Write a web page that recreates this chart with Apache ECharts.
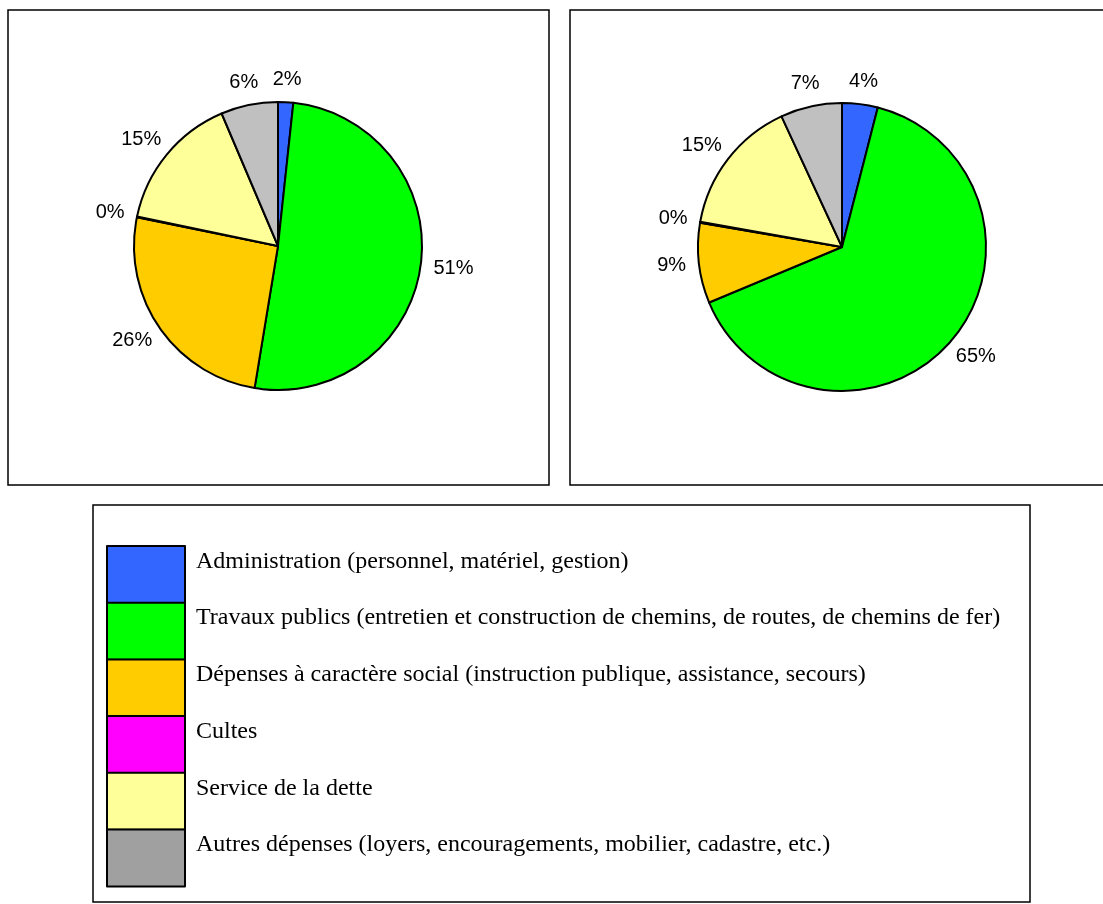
<!DOCTYPE html>
<html>
<head>
<meta charset="utf-8">
<script src="https://cdn.jsdelivr.net/npm/echarts@6/dist/echarts.min.js"></script>
<style>
html,body{margin:0;padding:0;background:#fff;}
#chart{width:1103px;height:904px;}
</style>
</head>
<body>
<div id="chart"></div>
<script>
// Categories (legend entries)
const categories = [
  'Administration (personnel, matériel, gestion)',
  'Travaux publics (entretien et construction de chemins, de routes, de chemins de fer)',
  'Dépenses à caractère social (instruction publique, assistance, secours)',
  'Cultes',
  'Service de la dette',
  'Autres dépenses (loyers, encouragements, mobilier, cadastre, etc.)'
];
// Shares (percent)
const leftValues  = [1.7, 50.9, 25.6, 0.1, 15.3, 6.4];
const rightValues = [4.0, 64.7, 9.0, 0.1, 15.3, 6.9];
// Colours
const sliceColors  = ['#3366FF', '#00FF00', '#FFCC00', '#FF00FF', '#FFFF99', '#C0C0C0'];
const legendColors = ['#3366FF', '#00FF00', '#FFCC00', '#FF00FF', '#FFFF99', '#A0A0A0'];

const chart = echarts.init(document.getElementById('chart'));

function centeredLabelLayout(params) {
  const pts = params.labelLinePoints;
  if (!pts || pts.length < 2) return {};
  const p0 = pts[0], p1 = pts[1];
  let dx = p1[0] - p0[0], dy = p1[1] - p0[1];
  const len = Math.sqrt(dx * dx + dy * dy) || 1;
  dx /= len; dy /= len;
  const w = params.labelRect.width, h = params.labelRect.height;
  const gap = 13;
  return {
    x: p0[0] + dx * gap + dx * w / 2,
    y: p0[1] + dy * gap + dy * h / 2,
    align: 'center',
    verticalAlign: 'middle'
  };
}

function makePie(values, center) {
  return {
    type: 'pie',
    center: center,
    radius: 144,
    startAngle: 90,
    clockwise: true,
    avoidLabelOverlap: false,
    percentPrecision: 0,
    silent: true,
    animation: false,
    itemStyle: { borderColor: '#000', borderWidth: 2 },
    label: {
      show: true,
      position: 'outside',
      formatter: '{d}%',
      fontFamily: 'Liberation Sans',
      fontSize: 20,
      color: '#000'
    },
    labelLine: { show: true, length: 10, length2: 0, lineStyle: { opacity: 0 } },
    labelLayout: centeredLabelLayout,
    emphasis: { disabled: true },
    data: categories.map((c, i) => ({
      name: c,
      value: values[i],
      itemStyle: { color: sliceColors[i] }
    }))
  };
}

const option = {
  backgroundColor: '#fff',
  animation: false,
  graphic: [
    { type: 'rect', shape: { x: 8, y: 10, width: 541, height: 475 }, style: { fill: 'none', stroke: '#000', lineWidth: 1.5 } },
    { type: 'rect', shape: { x: 570, y: 10, width: 545, height: 475 }, style: { fill: 'none', stroke: '#000', lineWidth: 1.5 } },
    { type: 'rect', shape: { x: 93, y: 505, width: 937, height: 397 }, style: { fill: 'none', stroke: '#000', lineWidth: 1.5 } }
  ],
  legend: {
    orient: 'vertical',
    left: 106,
    top: 545,
    padding: 0,
    itemWidth: 78,
    itemHeight: 57,
    itemGap: -2.3,
    icon: 'rect',
    selectedMode: false,
    itemStyle: { borderColor: '#000', borderWidth: 2 },
    formatter: function (name) { return name + '\n\u00a0'; },
    textStyle: {
      fontFamily: 'Liberation Serif',
      fontSize: 24,
      lineHeight: 26,
      color: '#000',
      padding: [0, 0, 0, 6]
    },
    data: categories.map((c, i) => ({ name: c, itemStyle: { color: legendColors[i] } }))
  },
  series: [
    makePie(leftValues, [278, 246]),
    makePie(rightValues, [842, 247])
  ]
};
chart.setOption(option);
</script>
</body>
</html>
